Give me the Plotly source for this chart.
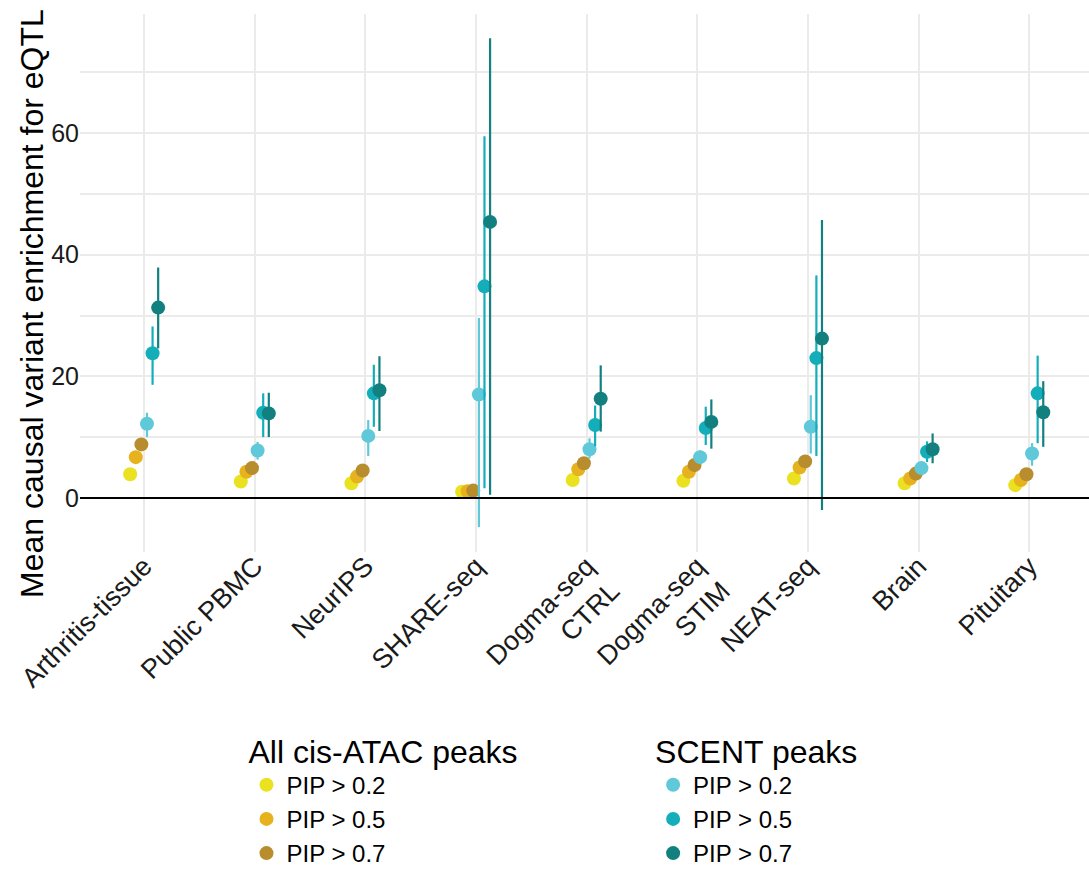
import plotly.graph_objects as go

# Datasets on the x axis
categories = ["Arthritis-tissue", "Public PBMC", "NeurIPS", "SHARE-seq",
              "Dogma-seq<br>CTRL", "Dogma-seq<br>STIM", "NEAT-seq", "Brain", "Pituitary"]

# Mean enrichment and 95% interval bounds per series
atac_02_mean = [3.9, 2.7, 2.4, 1.0, 2.95, 2.8, 3.2, 2.4, 2.1]
atac_02_hi = [4.4, 3.2, 2.9, 1.4, 3.4, 3.3, 3.7, 2.8, 2.5]
atac_02_lo = [3.4, 2.2, 1.9, 0.6, 2.5, 2.3, 2.7, 2.0, 1.7]

atac_05_mean = [6.7, 4.3, 3.5, 1.1, 4.7, 4.3, 5.0, 3.2, 2.95]
atac_05_hi = [7.3, 4.8, 4.0, 1.5, 5.2, 4.8, 5.6, 3.6, 3.4]
atac_05_lo = [6.1, 3.8, 3.0, 0.7, 4.2, 3.8, 4.4, 2.8, 2.5]

atac_07_mean = [8.8, 4.9, 4.5, 1.2, 5.7, 5.4, 6.0, 4.0, 3.9]
atac_07_hi = [9.5, 5.5, 5.1, 1.7, 6.3, 6.0, 6.7, 4.5, 4.4]
atac_07_lo = [8.1, 4.3, 3.9, 0.7, 5.1, 4.8, 5.3, 3.5, 3.4]

scent_02_mean = [12.2, 7.8, 10.2, 17.0, 8.0, 6.7, 11.7, 4.9, 7.3]
scent_02_hi = [14.0, 9.2, 12.8, 29.6, 9.8, 7.8, 16.9, 5.8, 9.0]
scent_02_lo = [10.0, 6.3, 6.9, -4.8, 6.5, 5.6, 7.3, 4.0, 5.3]

scent_05_mean = [23.8, 14.0, 17.2, 34.8, 12.0, 11.5, 23.0, 7.6, 17.2]
scent_05_hi = [28.2, 17.2, 21.9, 59.5, 15.2, 15.0, 36.6, 9.3, 23.4]
scent_05_lo = [18.6, 10.0, 11.7, 1.6, 8.5, 8.7, 6.9, 5.9, 9.0]

scent_07_mean = [31.3, 13.9, 17.7, 45.4, 16.3, 12.5, 26.2, 8.0, 14.1]
scent_07_hi = [37.9, 17.3, 23.3, 75.6, 21.8, 16.2, 45.7, 10.6, 19.2]
scent_07_lo = [24.6, 10.0, 11.0, 0.5, 10.9, 8.1, -2.0, 5.7, 8.4]

series_labels = ["PIP > 0.2", "PIP > 0.5", "PIP > 0.7"]
atac_colors = ["#EAE220", "#E6B31F", "#B88D2D"]
scent_colors = ["#5FC9D9", "#14AEBB", "#12807F"]

series = [
    (atac_02_mean, atac_02_hi, atac_02_lo, atac_colors[0], series_labels[0], "legend"),
    (atac_05_mean, atac_05_hi, atac_05_lo, atac_colors[1], series_labels[1], "legend"),
    (atac_07_mean, atac_07_hi, atac_07_lo, atac_colors[2], series_labels[2], "legend"),
    (scent_02_mean, scent_02_hi, scent_02_lo, scent_colors[0], series_labels[0], "legend2"),
    (scent_05_mean, scent_05_hi, scent_05_lo, scent_colors[1], series_labels[1], "legend2"),
    (scent_07_mean, scent_07_hi, scent_07_lo, scent_colors[2], series_labels[2], "legend2"),
]

FONT = "Liberation Sans, Arial, Helvetica, sans-serif"
dodge = 0.0506
n = len(series)

fig = go.Figure()
for k, (mean, hi, lo, color, label, leg) in enumerate(series):
    xs = [i + 1 + (k - (n - 1) / 2) * dodge for i in range(len(categories))]
    fig.add_trace(go.Scatter(
        x=xs, y=mean, mode="markers", name=label, legend=leg,
        marker=dict(color=color, size=14, line=dict(width=0)),
        error_y=dict(type="data", symmetric=False,
                     array=[h - m for h, m in zip(hi, mean)],
                     arrayminus=[m - l for m, l in zip(mean, lo)],
                     color=color, thickness=2.2, width=0),
        showlegend=True,
    ))

fig.add_hline(y=0, line=dict(color="black", width=2))

# y-axis title, centred slightly below the panel middle
fig.add_annotation(
    text="Mean causal variant enrichment for eQTL", textangle=-90,
    xref="paper", yref="paper", x=-0.0476, y=0.463,
    xanchor="center", yanchor="middle", showarrow=False,
    font=dict(size=32, color="black", family=FONT),
)

fig.update_layout(
    width=1089, height=876,
    margin=dict(l=80, r=0, t=14, b=322),
    paper_bgcolor="white", plot_bgcolor="white",
    font=dict(family=FONT, color="#1a1a1a", size=24),
    xaxis=dict(
        range=[0.42, 9.54], tickmode="array",
        tickvals=list(range(1, len(categories) + 1)), ticktext=categories,
        tickangle=-45, showgrid=True, gridcolor="#EBEBEB", gridwidth=1.6,
        zeroline=False, showline=False, ticks="", automargin=False,
        ticklabelstandoff=-8,
        tickfont=dict(size=27, color="#1a1a1a"),
    ),
    yaxis=dict(
        range=[-8.9, 79.6], tickvals=[0, 20, 40, 60],
        showgrid=True, gridcolor="#EBEBEB", gridwidth=1.6,
        minor=dict(tickvals=[10, 30, 50, 70], showgrid=True,
                   gridcolor="#EBEBEB", gridwidth=1.6),
        zeroline=False, showline=False, ticks="", automargin=False,
        tickfont=dict(size=25, color="#1a1a1a"),
    ),
    legend=dict(
        title=dict(text="All cis-ATAC peaks", font=dict(size=32, color="black")),
        x=0.165, y=-0.3148, xanchor="left", yanchor="top",
        orientation="v", font=dict(size=24, color="black"),
        bgcolor="rgba(0,0,0,0)",
    ),
    legend2=dict(
        title=dict(text="SCENT peaks", font=dict(size=32, color="black")),
        x=0.568, y=-0.3148, xanchor="left", yanchor="top",
        orientation="v", font=dict(size=24, color="black"),
        bgcolor="rgba(0,0,0,0)",
    ),
)

fig.write_html("out.html")
